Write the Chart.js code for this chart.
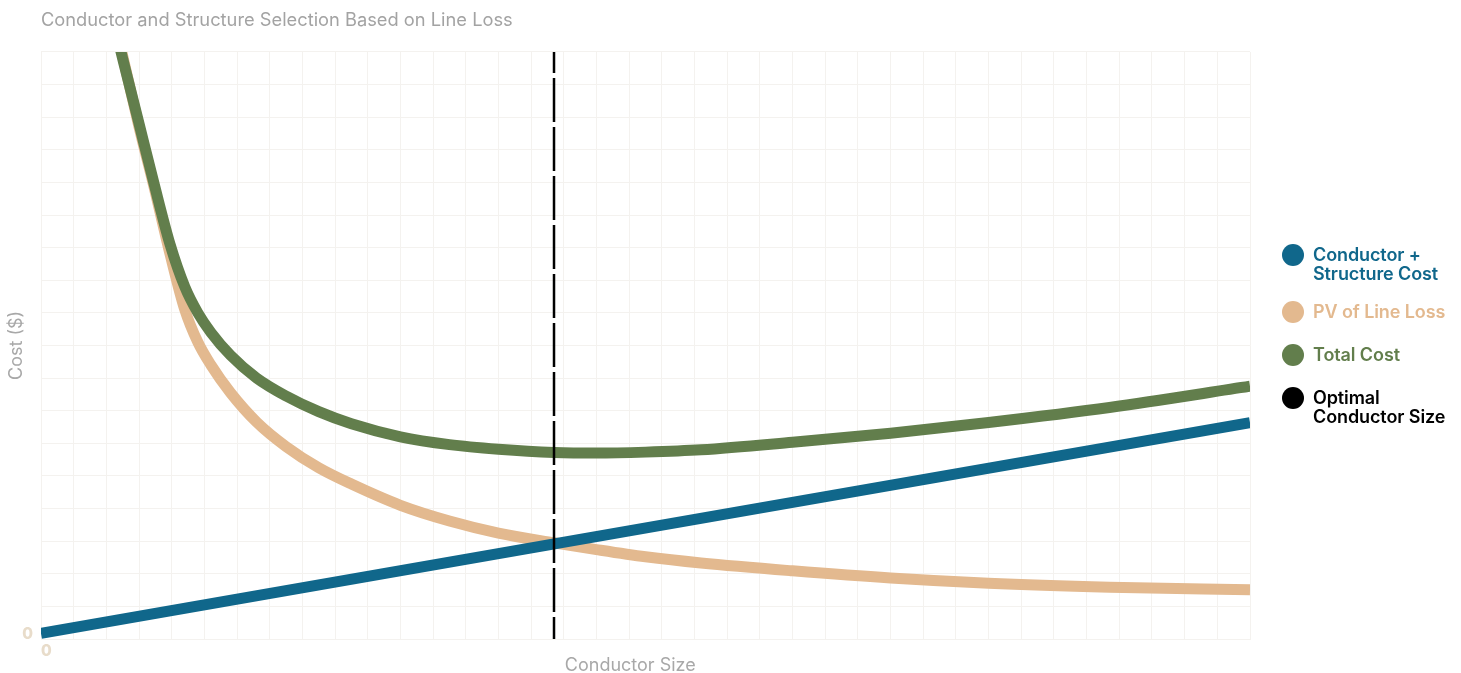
<!DOCTYPE html>
<html>
<head>
<meta charset="utf-8">
<title>Conductor and Structure Selection Based on Line Loss</title>
<script src="https://cdn.jsdelivr.net/npm/chart.js@4.4.1/dist/chart.umd.min.js"></script>
<style>
  html, body { margin: 0; padding: 0; background: #fff; }
  #wrap { position: relative; width: 1461px; height: 673px; }
  #chart { position: absolute; left: 0; top: 0; }
  .key { position: absolute; left: 1282px; display: flex; align-items: flex-start;
         font-family: Inter, "Open Sans", sans-serif; font-weight: 600; font-size: 18px;
         line-height: 19px; letter-spacing: -0.1px; white-space: nowrap; }
  .key .dot { width: 22px; height: 22px; border-radius: 50%; margin-top: -1.5px; margin-right: 9px; flex: none; }
</style>
</head>
<body>
<div id="wrap">
  <canvas id="chart" width="1461" height="673"></canvas>
  <div class="key" style="top:245px;color:#10678b"><span class="dot" style="background:#10678b"></span><span>Conductor +<br>Structure Cost</span></div>
  <div class="key" style="top:302px;color:#e3b98f"><span class="dot" style="background:#e3b98f"></span><span>PV of Line Loss</span></div>
  <div class="key" style="top:345px;color:#627e4c"><span class="dot" style="background:#627e4c"></span><span>Total Cost</span></div>
  <div class="key" style="top:388px;color:#000"><span class="dot" style="background:#000"></span><span>Optimal<br>Conductor Size</span></div>
</div>
<script>
// conductor sizes (arbitrary units) where the curves were sampled
var sizes = [2.2, 2.45, 2.7, 3.0, 3.45, 3.95, 4.4, 4.8, 5.2, 5.8, 6.6, 7.5, 8.5, 9.5, 11, 12.5, 14, 15.7, 17, 18.5, 20.2, 23, 26, 29, 32.7, 37];
var lineLoss = [19.2, 18.1, 17.0, 15.7, 13.9, 11.8, 10.1, 9.1, 8.4, 7.55, 6.65, 5.9, 5.25, 4.75, 4.1, 3.62, 3.25, 2.95, 2.74, 2.52, 2.33, 2.09, 1.87, 1.71, 1.59, 1.51];
var totalCost = [19.1, 18.0, 17.0, 15.8, 14.0, 12.1, 10.8, 10.0, 9.4, 8.7, 8.0, 7.45, 6.97, 6.6, 6.2, 5.96, 5.82, 5.72, 5.70, 5.73, 5.80, 6.03, 6.31, 6.64, 7.10, 7.75];

// conductor + structure cost is a straight line
var costSizes = [0, 37];
var structureCost = [0.17, 6.63];

var optimalSize = 15.7;
var yTicks = [0];   // only the origin is labelled
var xTicks = [0];

function pts(xs, ys) {
  return xs.map(function(x, i) { return { x: x, y: ys[i] }; });
}

var gridColor = '#f4f2ef';
var zeroColor = '#e8dcca';
var muted = '#a8a8a8';

new Chart(document.getElementById('chart'), {
  type: 'line',
  data: {
    datasets: [
      {
        label: 'Optimal Conductor Size',
        data: pts([optimalSize, optimalSize], [0, 18]),
        borderColor: '#000',
        borderWidth: 2.5,
        borderDash: [44, 5],
        borderDashOffset: 22,
        pointRadius: 0,
        order: 0
      },
      {
        label: 'Conductor + Structure Cost',
        data: pts(costSizes, structureCost),
        borderColor: '#10678b',
        borderWidth: 11,
        pointRadius: 0,
        order: 1
      },
      {
        label: 'Total Cost',
        data: pts(sizes, totalCost),
        borderColor: '#627e4c',
        borderWidth: 11,
        pointRadius: 0,
        cubicInterpolationMode: 'monotone',
        capBezierPoints: false,
        order: 2
      },
      {
        label: 'PV of Line Loss',
        data: pts(sizes, lineLoss),
        borderColor: '#e3b98f',
        borderWidth: 11,
        pointRadius: 0,
        cubicInterpolationMode: 'monotone',
        capBezierPoints: false,
        order: 3
      }
    ]
  },
  options: {
    responsive: false,
    animation: false,
    layout: { autoPadding: false, padding: { left: 8, right: 211, top: 0, bottom: -2 } },
    plugins: {
      legend: { display: false },
      tooltip: { enabled: false },
      title: {
        display: true,
        text: 'Conductor and Structure Selection Based on Line Loss',
        align: 'start',
        fullSize: false,
        color: '#a3a3a3',
        font: { family: 'Inter', size: 18.3, weight: '400', lineHeight: 1.2 },
        padding: { top: 10, bottom: 20 }
      }
    },
    scales: {
      x: {
        type: 'linear',
        min: 0,
        max: 37,
        afterFit: function(scale) { scale.height = 36; },
        grid: { color: gridColor, drawTicks: false },
        border: { color: gridColor },
        ticks: {
          stepSize: 1,
          autoSkip: false,
          maxRotation: 0,
          align: 'start',
          padding: 5,
          color: zeroColor,
          font: { family: 'Inter', size: 15.5, weight: '800', lineHeight: 1 },
          callback: function(v) { return xTicks.indexOf(v) >= 0 ? String(v) : ''; }
        },
        title: {
          display: true,
          // trailing spaces nudge the centred caption a little to the left
          text: 'Conductor Size      ',
          color: muted,
          font: { family: 'Inter', size: 18, weight: '400', lineHeight: 1 },
          padding: { top: 0, bottom: 0 }
        }
      },
      y: {
        min: 0,
        max: 18,
        afterFit: function(scale) { scale.width = 33; },
        grid: { color: gridColor, drawTicks: false },
        border: { color: gridColor },
        ticks: {
          stepSize: 1,
          autoSkip: false,
          padding: 8,
          labelOffset: -5,
          color: zeroColor,
          font: { family: 'Inter', size: 15.5, weight: '800', lineHeight: 1 },
          callback: function(v) { return yTicks.indexOf(v) >= 0 ? String(v) : ''; }
        },
        title: {
          display: true,
          text: 'Cost ($)',
          color: muted,
          font: { family: 'Inter', size: 18, weight: '400', lineHeight: 1 },
          padding: { top: 0, bottom: 0 }
        }
      }
    }
  }
});
</script>
</body>
</html>
